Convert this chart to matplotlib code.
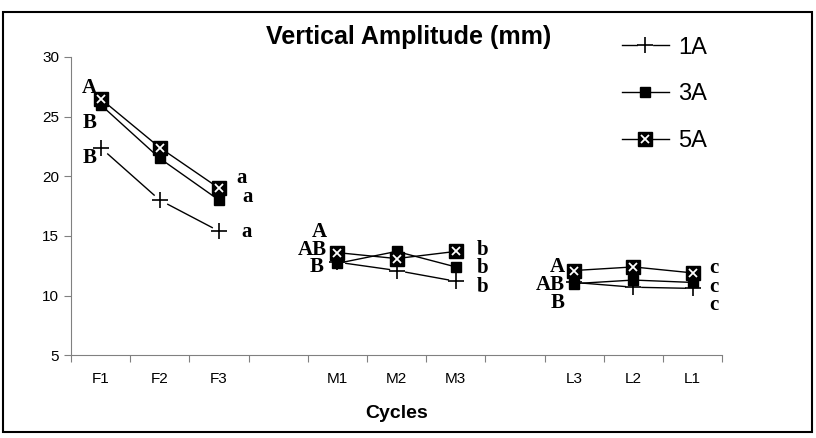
import numpy as np
import matplotlib
matplotlib.use("Agg")
import matplotlib.pyplot as plt
from matplotlib.patches import Rectangle

plt.rcParams['font.family'] = ['Liberation Sans', 'DejaVu Sans']

# categorias (las vacias separan los grupos)
ciclos = ['F1', 'F2', 'F3', '', 'M1', 'M2', 'M3', '', 'L3', 'L2', 'L1']
a1 = [22.4, 18.0, 15.4, None, 12.8, 12.1, 11.2, None, 11.1, 10.7, 10.6]
a3 = [26.0, 21.5, 18.0, None, 12.7, 13.7, 12.4, None, 11.0, 11.3, 11.1]
a5 = [26.5, 22.4, 19.0, None, 13.6, 13.1, 13.7, None, 12.1, 12.4, 11.9]

# letras de significancia: (texto, x en eje de categorias, y, alineacion)
letras = [
    ('A', 0.44, 27.4, 'right'), ('B', 0.44, 24.5, 'right'), ('B', 0.44, 21.5, 'right'),
    ('a', 2.80, 19.85, 'left'), ('a', 2.90, 18.3, 'left'), ('a', 2.88, 15.3, 'left'),
    ('A', 4.32, 15.3, 'right'), ('AB', 4.32, 13.8, 'right'), ('B', 4.27, 12.4, 'right'),
    ('b', 6.86, 13.8, 'left'), ('b', 6.86, 12.3, 'left'), ('b', 6.86, 10.7, 'left'),
    ('A', 8.34, 12.4, 'right'), ('AB', 8.34, 10.9, 'right'), ('B', 8.34, 9.4, 'right'),
    ('c', 10.79, 12.3, 'left'), ('c', 10.79, 10.7, 'left'), ('c', 10.79, 9.2, 'left'),
]

def serie(v):
    return np.array([np.nan if x is None else x for x in v], dtype=float)

x = np.arange(len(ciclos)) + 0.5

fig = plt.figure(figsize=(8.16, 4.38), dpi=100)
ax = fig.add_axes([0.087, 0.189, 0.798, 0.681])

# 1A: linea con huecos alrededor del marcador
ax.plot(x, serie(a1), color='black', lw=1.0, zorder=2)
ax.plot(x, serie(a1), ls='none', marker='o', ms=11, mfc='white', mec='none', zorder=3)
ax.plot(x, serie(a1), ls='none', marker='+', ms=11, mew=1.2, color='black', zorder=4)

# 3A
ax.plot(x, serie(a3), color='black', lw=1.0, marker='s', ms=6.5, mfc='black', mec='black', zorder=5)

# 5A
ax.plot(x, serie(a5), color='black', lw=1.0, zorder=6)
ax.plot(x, serie(a5), ls='none', marker='s', ms=10, mfc='black', mec='black', zorder=7)
ax.plot(x, serie(a5), ls='none', marker='x', ms=5.5, mew=1.3, color='white', zorder=8)

for txt, xi, yi, ha in letras:
    ax.text(xi, yi, txt, ha=ha, va='center', fontsize=15, fontweight='bold',
            family='Liberation Serif', zorder=9)

ax.set_xlim(0, len(ciclos))
ax.set_ylim(5, 30)
ax.set_yticks([5, 10, 15, 20, 25, 30])
ax.set_xticks(np.arange(len(ciclos) + 1))
ax.set_xticklabels([])
ax.set_xticks(x, minor=True)
ax.set_xticklabels(ciclos, minor=True)
ax.tick_params(axis='x', which='major', direction='out', length=5, color='#808080')
ax.tick_params(axis='x', which='minor', length=0, pad=12, labelsize=11)
ax.tick_params(axis='y', direction='out', length=5, color='#808080', labelsize=11)

for s in ['top', 'right']:
    ax.spines[s].set_visible(False)
for s in ['left', 'bottom']:
    ax.spines[s].set_color('#808080')

ax.set_xlabel('Cycles', fontsize=14, fontweight='bold', labelpad=14)
fig.text(0.501, 0.915, 'Vertical Amplitude (mm)', ha='center', va='center',
         fontsize=18, fontweight='bold')

# leyenda
h1 = (plt.Line2D([], [], color='black', lw=1.0),
      plt.Line2D([], [], ls='none', marker='o', ms=11, mfc='white', mec='none'),
      plt.Line2D([], [], ls='none', marker='+', ms=11, mew=1.2, color='black'))
h3 = plt.Line2D([], [], color='black', lw=1.0, marker='s', ms=6.5, mfc='black')
h5 = (plt.Line2D([], [], color='black', lw=1.0),
      plt.Line2D([], [], ls='none', marker='s', ms=10, mfc='black', mec='black'),
      plt.Line2D([], [], ls='none', marker='x', ms=5.5, mew=1.3, color='white'))
leg = fig.legend([h1, h3, h5], ['1A', '3A', '5A'], loc='upper left',
                 bbox_to_anchor=(0.736, 0.965), frameon=False, fontsize=17,
                 handlelength=2.0, labelspacing=1.05, handletextpad=0.4)

# marco exterior
fig.patches.append(Rectangle((0.004, 0.014), 0.991, 0.959, transform=fig.transFigure,
                             fill=False, edgecolor='black', lw=1.5))

fig.savefig('out.png', dpi=100)
